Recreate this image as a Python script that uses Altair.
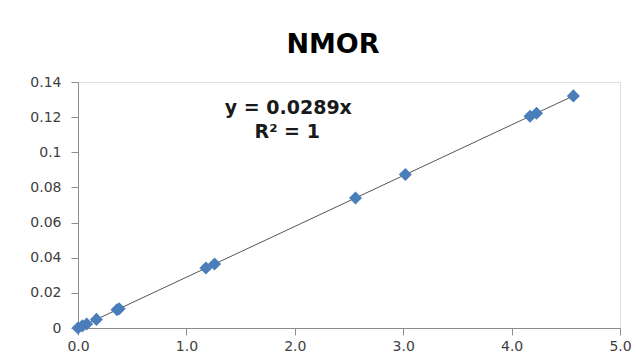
import altair as alt
import pandas as pd

conc = [0.0, 0.04, 0.08, 0.17, 0.36, 0.38, 1.18, 1.26, 2.56, 3.02, 4.17, 4.23, 4.57]
ratio = [0.0, 0.0012, 0.0023, 0.0049, 0.0104, 0.0110, 0.0341, 0.0364, 0.0740, 0.0873, 0.1205, 0.1222, 0.1321]
trend_x = [0.0, 4.57]
trend_y = [0.0, 0.1321]
eq_lines = ["y = 0.0289x", "R² = 1"]
eq_x = [1.94, 1.93]
eq_y = [0.1251, 0.1113]
x_ticks = [0, 1, 2, 3, 4, 5]
y_ticks = [0, 0.02, 0.04, 0.06, 0.08, 0.1, 0.12, 0.14]

df = pd.DataFrame({"x": conc, "y": ratio})
tr = pd.DataFrame({"x": trend_x, "y": trend_y})
eq = pd.DataFrame({"t": eq_lines, "x": eq_x, "y": eq_y})

xs = alt.Scale(domain=[0, 5], nice=False, zero=True)
ys = alt.Scale(domain=[0, 0.14], nice=False)

common = dict(title=None, grid=False, domainColor="#8c8c8c", tickColor="#8c8c8c",
              labelFontSize=14, labelColor="#404040", labelFont="DejaVu Sans",
              labelOverlap=False, labelBound=False, labelFlush=False)
xax = alt.Axis(values=x_ticks, format=".1f", tickSize=7, labelPadding=4, **common)
yax = alt.Axis(values=y_ticks, format="~g", tickSize=7, labelPadding=10, **common)

X = alt.X("x:Q", scale=xs, axis=xax)
Y = alt.Y("y:Q", scale=ys, axis=yax)

line = alt.Chart(tr).mark_line(color="#555555", strokeWidth=1).encode(x=X, y=Y)
pts = alt.Chart(df).mark_point(shape="diamond", filled=True, size=170, color="#4a7ebb", opacity=1).encode(x=X, y=Y)
txt = alt.Chart(eq).mark_text(align="center", baseline="middle", fontSize=19, fontWeight="bold",
                              font="DejaVu Sans", color="#1a1a1a").encode(x=X, y=Y, text="t:N")

chart = (line + pts + txt).properties(
    width=542, height=246,
    title=alt.TitleParams("NMOR", fontSize=27, fontWeight="bold", font="DejaVu Sans",
                          color="#000000", anchor="middle", dx=-16, offset=16),
    autosize=alt.AutoSizeParams(type="none"),
    padding={"left": 78, "top": 82, "right": 16, "bottom": 28},
).configure_view(strokeOpacity=0, strokeWidth=0).configure(background="white")

chart.save("out.html", embed_options={"renderer": "svg", "actions": False})
